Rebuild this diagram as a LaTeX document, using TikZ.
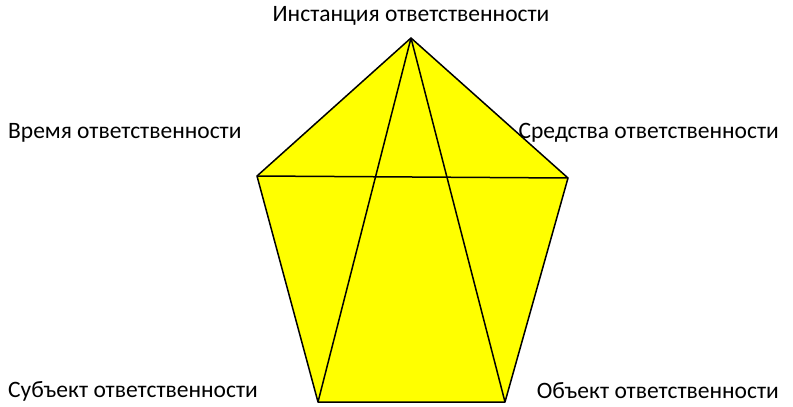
\documentclass[tikz,border=0pt]{standalone}
\usepackage{fontspec}
\setmainfont{Carlito}
\definecolor{pentfill}{RGB}{255,255,0}
\begin{document}
\begin{tikzpicture}[x=1pt,y=-1pt,
  lbl/.style={inner sep=0pt,font=\fontsize{23.5}{28}\selectfont},
  edge/.style={draw=black,line width=1.5pt,line join=round}]
\useasboundingbox (0,0) rectangle (793,407);
\coordinate (T) at (411,38);
\coordinate (L) at (257,176);
\coordinate (R) at (568,178);
\coordinate (BL) at (318,402);
\coordinate (BR) at (505,402);
\fill[pentfill] (T) -- (R) -- (BR) -- (BL) -- (L) -- cycle;
\draw[edge] (T) -- (R) -- (BR) -- (BL) -- (L) -- cycle;
\draw[edge] (T) -- (BL);
\draw[edge] (T) -- (BR);
\draw[edge] (L) -- (R);
\node[lbl] (t1) at (411,16) {Инстанция ответственности};
\node[lbl,anchor=west] (t2) at (8,133) {Время ответственности};
\node[lbl,anchor=east] (t3) at (779,133) {Средства ответственности};
\node[lbl,anchor=west] (t4) at (8,391) {Субъект ответственности};
\node[lbl,anchor=east] (t5) at (779,391) {Объект ответственности};
\end{tikzpicture}
\end{document}
